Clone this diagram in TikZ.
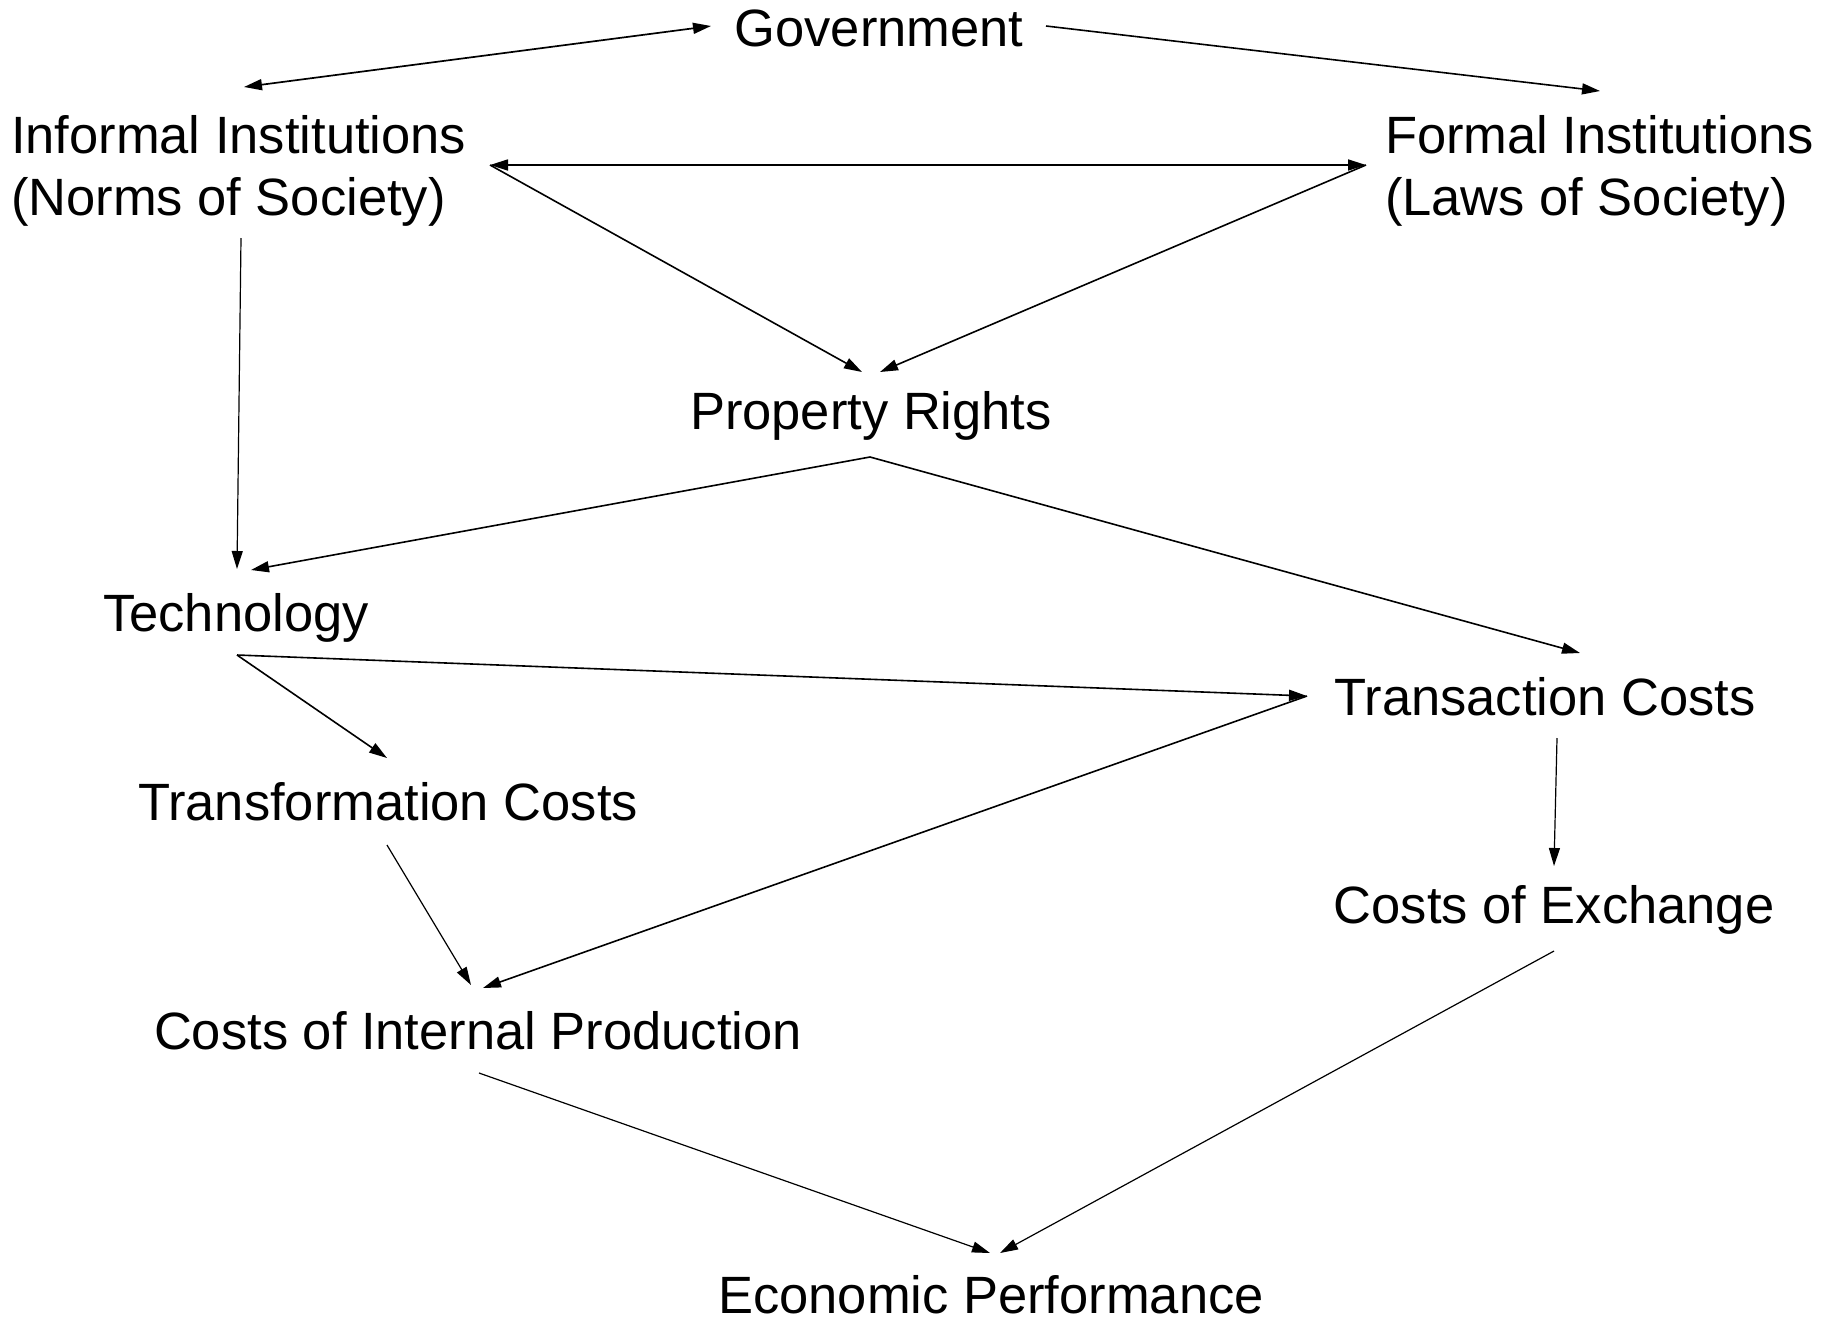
\documentclass[tikz,border=0pt]{standalone}
\usepackage{fontspec}
\setmainfont{Liberation Sans}
\usetikzlibrary{arrows.meta}
\begin{document}
\begin{tikzpicture}[x=1pt,y=-1pt,
  lbl/.style={inner sep=0pt,outer sep=0pt,anchor=base,font=\fontsize{52.5}{62}\selectfont},
  lbl2/.style={lbl,anchor=base west,align=left},
  link/.style={line width=1.6pt,-{Triangle[length=18pt,width=11pt]}},
  linkthin/.style={link,line width=1.2pt},
  both/.style={line width=1.7pt,{Triangle[length=18pt,width=11pt]}-{Triangle[length=18pt,width=11pt]}}]
\useasboundingbox (0,0) rectangle (1822,1323);

% labels (two-line labels are placed by the baseline of their last line)
\node[lbl]  (gov)   at (879,46)   {Government};
\node[lbl2] (inf)   at (11,215)   {Informal Institutions\\(Norms of Society)};
\node[lbl2] (form)  at (1385,215) {Formal Institutions\\(Laws of Society)};
\node[lbl]  (prop)  at (871,429)  {Property Rights};
\node[lbl]  (tech)  at (236,631)  {Technology};
\node[lbl]  (trc)   at (1545,715) {Transaction Costs};
\node[lbl]  (tfc)   at (388,820)  {Transformation Costs};
\node[lbl]  (coe)   at (1554,923) {Costs of Exchange};
\node[lbl]  (cip)   at (478,1049) {Costs of Internal Production};
\node[lbl]  (ep)    at (991,1313) {Economic Performance};

% connector end points around the labels
\coordinate (gov-w)  at (711,26);
\coordinate (gov-e)  at (1046,26);
\coordinate (inf-n)  at (244,87);
\coordinate (inf-e)  at (490,165);
\coordinate (inf-s)  at (241,238);
\coordinate (form-n) at (1600,91);
\coordinate (form-w) at (1366,165);
\coordinate (prop-nl) at (862,372);
\coordinate (prop-nr) at (880,372);
\coordinate (prop-s) at (870,457);
\coordinate (tech-n)  at (237,569);
\coordinate (tech-nr) at (251,570);
\coordinate (tech-s) at (237,655);
\coordinate (trc-n)  at (1580,653);
\coordinate (trc-w)  at (1307,696);
\coordinate (trc-s)  at (1557,738);
\coordinate (tfc-n)  at (387,758);
\coordinate (tfc-s)  at (387,845);
\coordinate (cip-nl) at (471,985);
\coordinate (cip-nr) at (483,988);
\coordinate (cip-s)  at (479,1073);
\coordinate (coe-n)  at (1554,866);
\coordinate (coe-s)  at (1554,951);
\coordinate (ep-nl)  at (990,1253);
\coordinate (ep-nr)  at (1000,1253);

% connectors
\draw[both] (inf-n) -- (gov-w);
\draw[link] (gov-e) -- (form-n);
\draw[both] (inf-e) -- (form-w);
\draw[link] (inf-e) -- (prop-nl);
\draw[link] (form-w) -- (prop-nr);
\draw[linkthin] (inf-s) -- (tech-n);
\draw[link] (prop-s) -- (tech-nr);
\draw[link] (prop-s) -- (trc-n);
\draw[link] (tech-s) -- (trc-w);
\draw[link] (tech-s) -- (tfc-n);
\draw[link] (trc-w) -- (cip-nr);
\draw[linkthin] (tfc-s) -- (cip-nl);
\draw[linkthin] (trc-s) -- (coe-n);
\draw[linkthin] (cip-s) -- (ep-nl);
\draw[linkthin] (coe-s) -- (ep-nr);
\end{tikzpicture}
\end{document}
